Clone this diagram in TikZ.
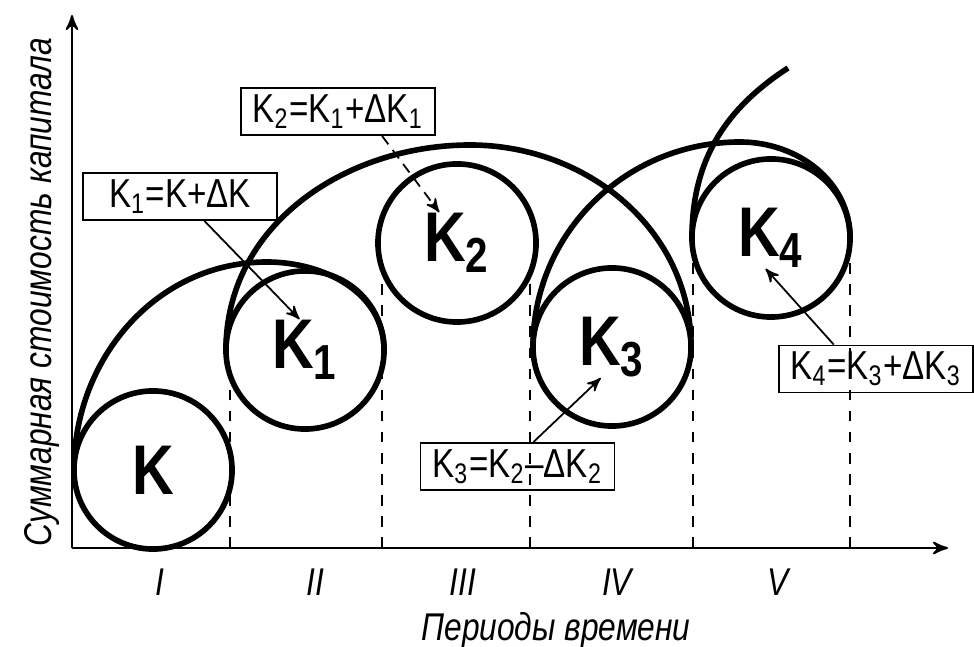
\documentclass[tikz,border=0pt]{standalone}
\usepackage{fontspec}
\setmainfont{Liberation Sans}[FakeStretch=0.82]
\usetikzlibrary{arrows, positioning, calc}

\begin{document}
\begin{tikzpicture}[x=0.01cm, y=0.01cm, >=stealth', semithick,
    capital/.style={circle, draw, line width=1.6pt, minimum size=1.58cm, inner sep=0pt, outer sep=0pt},
    capname/.style={inner sep=0pt, font=\fontsize{20}{22}\selectfont\bfseries},
    formula/.style={rectangle, draw, line width=0.5pt, minimum width=1.94cm, minimum height=0.47cm, inner sep=0pt, font=\fontsize{11.5}{13}\selectfont},
    spiral/.style={line width=1.6pt},
    period/.style={font=\fontsize{11}{13}\selectfont\itshape}]

	\useasboundingbox (0,0) rectangle (974,646);

	% axes
	\coordinate (Orig) at (72,98);
	\coordinate (YEnd) at (72,631);
	\coordinate (XEnd) at (948,98);
	\draw[->, line width=0.6pt] (Orig) -- (YEnd);
	\draw[->, line width=0.6pt] (Orig) -- (XEnd);

	% period bounds
	\foreach \x/\h in {230/256, 382/381, 530/369, 693/383, 850/383}
		\draw[dashed, line width=0.5pt] (\x,98) -- (\x,\h);

	% capitals
	\node[capital] (CapK)  at (153,176) {};
	\node[capital] (CapK1) at (305,296) {};
	\node[capital] (CapK2) at (457,403) {};
	\node[capital] (CapK3) at (612,299) {};
	\node[capital] (CapK4) at (771,408) {};

	\node[capname] (LblK)  at (CapK)  {K};
	\node[capname] (LblK1) at (CapK1) {K\textsubscript{1}};
	\node[capname] (LblK2) at (CapK2) {K\textsubscript{2}};
	\node[capname] (LblK3) at (CapK3) {K\textsubscript{3}};
	\node[capname] (LblK4) at (CapK4) {K\textsubscript{4}};

	% spiral of growth
	\coordinate (TopA) at (267,384);
	\coordinate (TopB) at (470,501);
	\coordinate (TopC) at (740,504);
	\coordinate (TailEnd) at (788,578);
	\draw[spiral] (CapK.west) to[out=90,in=180] (TopA) to[out=0,in=90] (CapK1.east);
	\draw[spiral] (CapK1.west) to[out=90,in=180] (TopB) to[out=0,in=90] (CapK3.east);
	\draw[spiral] (CapK3.west) to[out=90,in=180] (TopC) to[out=0,in=90] (CapK4.east);
	\draw[spiral] (CapK4.west) to[out=90,in=213] (TailEnd);

	% formulas
	\node[formula] (ForK1) at (180,449.5) {K\textsubscript{1}=K+ΔK};
	\node[formula] (ForK2) at (338,534.5) {K\textsubscript{2}=K\textsubscript{1}+ΔK\textsubscript{1}};
	\node[formula] (ForK3) at (517.5,179.5) {K\textsubscript{3}=K\textsubscript{2}–ΔK\textsubscript{2}};
	\node[formula] (ForK4) at (876,277) {K\textsubscript{4}=K\textsubscript{3}+ΔK\textsubscript{3}};

	\draw[->, line width=0.5pt] (ForK1.-45) -- (LblK1.100);
	\draw[->, line width=0.5pt, densely dashed] (ForK2.-29) -- (LblK2.120);
	\draw[->, line width=0.5pt] (ForK3.57) -- (LblK3.-110);
	\draw[->, line width=0.5pt] (ForK4.150) -- (LblK4.-100);

	% axis texts
	\node[period] (PerI)   at (160,64) {I};
	\node[period] (PerII)  at (315,64) {II};
	\node[period] (PerIII) at (463,64) {III};
	\node[period] (PerIV)  at (617,64) {IV};
	\node[period] (PerV)   at (778,64) {V};
	\node[period] (AxisX) at (556,16) {Периоды времени};
	\node[period, rotate=90] (AxisY) at (42,354) {Суммарная стоимость капитала};

\end{tikzpicture}
\end{document}
